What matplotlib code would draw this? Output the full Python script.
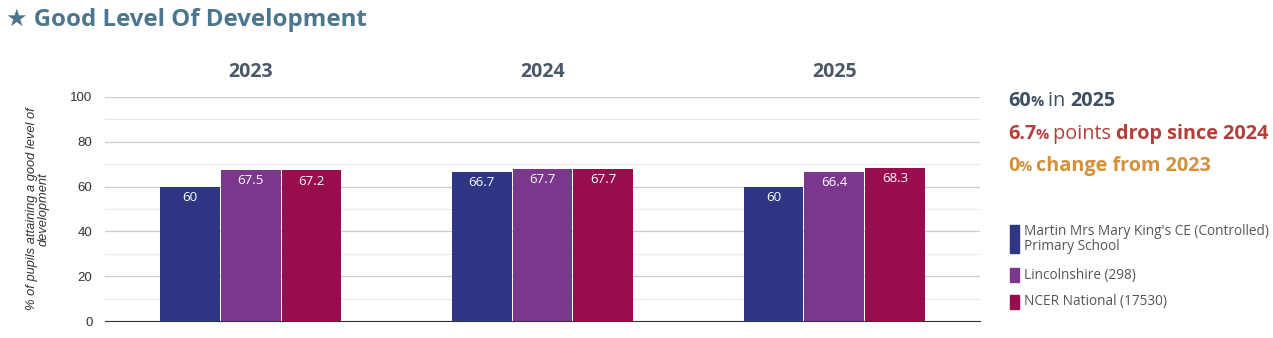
import matplotlib.pyplot as plt
import numpy as np
from matplotlib.patches import Rectangle

plt.rcParams['font.family'] = ['Open Sans', 'DejaVu Sans']

years = ['2023', '2024', '2025']
series = ["Martin Mrs Mary King's CE (Controlled)\nPrimary School", 'Lincolnshire (298)', 'NCER National (17530)']
school = [60, 66.7, 60]
county = [67.5, 67.7, 66.4]
national = [67.2, 67.7, 68.3]
colors = ['#2f3784', '#7a378c', '#990d4e']

W, H = 1273, 338
fig = plt.figure(figsize=(W / 100, H / 100), dpi=100)

# axes in pixel coords
x0, x1 = 105, 980
y0, y1 = 321, 97
ax = fig.add_axes([x0 / W, 1 - y0 / H, (x1 - x0) / W, (y0 - y1) / H])

bw = 0.205
x = np.arange(3) + 0.5
for i, vals in enumerate([school, county, national]):
    bars = ax.bar(x + (i - 1) * (bw + 0.003), vals, bw, color=colors[i], zorder=3)
    for b, v in zip(bars, vals):
        ax.text(b.get_x() + b.get_width() / 2, v - 1.8, f'{v:g}', ha='center', va='top',
                color='white', fontsize=9.5, zorder=4)

ax.set_xlim(0, 3)
ax.set_ylim(0, 100)
ax.set_yticks(range(0, 101, 20))
ax.set_yticks(range(10, 100, 20), minor=True)
ax.grid(axis='y', which='major', color='#cccccc', lw=0.9, zorder=0)
ax.grid(axis='y', which='minor', color='#e8e8e8', lw=0.9, zorder=0)
ax.set_xticks([])
for s in ['top', 'right', 'left']:
    ax.spines[s].set_visible(False)
ax.spines['bottom'].set_color('#333333')
ax.tick_params(axis='y', length=0, pad=9, labelsize=9.5, labelcolor='#333333')
ax.tick_params(axis='y', which='minor', length=0)
for lab in ax.get_yticklabels():
    lab.set_family('Liberation Sans')

for xi, yr in zip(x, years):
    ax.text(xi, 111, yr, ha='center', va='center', fontsize=14, fontweight='bold',
            color='#4a5868', clip_on=False)

fig.text(38 / W, 1 - 209 / H, '% of pupils attaining a good level of\ndevelopment', rotation=90,
         ha='center', va='center', fontsize=9.3, style='italic', color='#333333',
         family='Liberation Sans', linespacing=1.0)

fig.text(6 / W, 1 - 20 / H, '★ Good Level Of Development', ha='left', va='center',
         fontsize=17.3, fontweight='bold', color='#4b7690')

# summary lines built from pieces
renderer = fig.canvas.get_renderer()
def line(y, parts):
    xp = 1008
    for txt, size, weight, col in parts:
        t = fig.text(xp / W, 1 - y / H, txt, ha='left', va='baseline', fontsize=size,
                     fontweight=weight, color=col)
        xp += t.get_window_extent(renderer).width
line(106, [('60', 14.3, 'bold', '#3c4e62'), ('% ', 10.5, 'bold', '#3c4e62'),
           ('in ', 14.3, 'normal', '#3c4e62'), ('2025', 14.3, 'bold', '#3c4e62')])
line(139, [('6.7', 14.3, 'bold', '#b2403a'), ('% ', 10.5, 'bold', '#b2403a'),
           ('points ', 14.3, 'normal', '#b2403a'), ('drop since 2024', 14.3, 'bold', '#b2403a')])
line(171, [('0', 14.3, 'bold', '#d4913b'), ('% ', 10.5, 'bold', '#d4913b'),
           ('change from 2023', 14.3, 'bold', '#d4913b')])

# legend
leg = [(225, 253), (268, 282), (295, 309)]
for (ya, yb), name, c in zip(leg, series, colors):
    fig.patches.append(Rectangle((1010 / W, 1 - yb / H), 9 / W, (yb - ya) / H,
                                 transform=fig.transFigure, color=c))
    fig.text(1024 / W, 1 - (ya + yb) / 2 / H, name, ha='left', va='center', fontsize=9.8,
             color='#555555', linespacing=0.95)

fig.savefig('out.png', dpi=100)
